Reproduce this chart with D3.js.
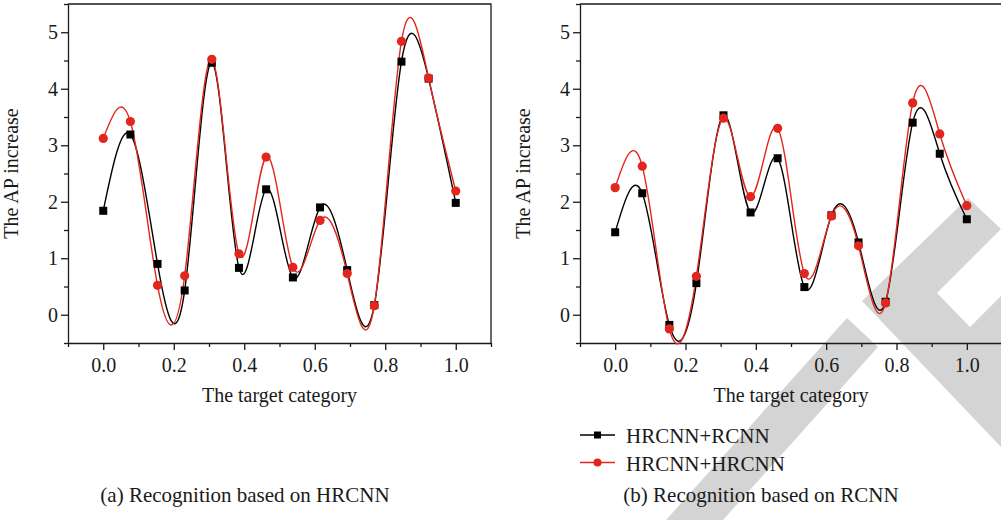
<!DOCTYPE html>
<html>
<head>
<meta charset="utf-8">
<script src="https://cdn.jsdelivr.net/npm/d3@7"></script>
<style>
  body { margin: 0; background: #fff; }
  svg { display: block; }
  svg text { font-family: "Liberation Serif", "DejaVu Serif", serif; }
</style>
</head>
<body>
<div class="chart"></div>
<script>
// x positions of the target categories
const categories = [0.0, 0.077, 0.154, 0.231, 0.308, 0.385, 0.462, 0.538, 0.615, 0.692, 0.769, 0.846, 0.923, 1.0];

// (a) Recognition based on HRCNN
const aRcnn  = [1.84, 3.19, 0.90, 0.43, 4.46, 0.83, 2.22, 0.66, 1.90, 0.79, 0.17, 4.48, 4.18, 1.98];
const aHrcnn = [3.12, 3.42, 0.52, 0.69, 4.52, 1.08, 2.79, 0.84, 1.67, 0.73, 0.16, 4.84, 4.19, 2.19];

// (b) Recognition based on RCNN
const bRcnn  = [1.46, 2.15, -0.18, 0.56, 3.53, 1.81, 2.77, 0.49, 1.76, 1.28, 0.23, 3.40, 2.85, 1.69];
const bHrcnn = [2.25, 2.63, -0.25, 0.68, 3.48, 2.09, 3.30, 0.73, 1.75, 1.22, 0.21, 3.75, 3.20, 1.93];

const xTicks = [0.0, 0.2, 0.4, 0.6, 0.8, 1.0];
const yTicks = [0, 1, 2, 3, 4, 5];
const seriesNames = ["HRCNN+RCNN", "HRCNN+HRCNN"];
const captions = ["(a) Recognition based on HRCNN", "(b) Recognition based on RCNN"];

const W = 1001, H = 520;
const RED = "#e2261d", INK = "#1a1a1a";
const FONT = "Liberation Serif, DejaVu Serif, serif";

let svg = d3.select(".chart")
  .append("svg")
  .attr("width", W)
  .attr("height", H);

// watermark in the lower right corner
const mark = svg.append("g").attr("fill", "#d4d4d4");
mark.append("polygon")
  .attr("points", "666,520 723,520 878,347 847,318");
mark.append("polygon")
  .attr("points", "968,198 1001,229 937,293 970,327 1001,296 1001,447 862,301");

function drawPanel(left, right, rcnn, hrcnn, caption, captionX) {
  const top = 4, bottom = 343;
  let x = d3.scaleLinear().domain([-0.1, 1.1]).range([left, right]);
  let y = d3.scaleLinear().domain([-0.5, 5.5]).range([bottom, top]);

  let g = svg.append("g");

  // frame (top + right)
  g.append("path")
    .attr("d", `M${left},${top}H${right}V${bottom}`)
    .attr("fill", "none")
    .attr("stroke", INK)
    .attr("stroke-width", 1.3);

  // x axis
  let xAxis = g.append("g")
    .attr("transform", `translate(0,${bottom})`)
    .call(d3.axisBottom(x).tickValues(xTicks).tickFormat(d3.format(".1f")).tickSize(7).tickSizeOuter(0));
  g.append("g")
    .attr("transform", `translate(0,${bottom})`)
    .call(d3.axisBottom(x).tickValues([-0.1, 0.1, 0.3, 0.5, 0.7, 0.9, 1.1]).tickFormat("").tickSize(4).tickSizeOuter(0))
    .select(".domain").remove();

  // y axis
  let yAxis = g.append("g")
    .attr("transform", `translate(${left},0)`)
    .call(d3.axisLeft(y).tickValues(yTicks).tickFormat(d3.format("d")).tickSize(7).tickSizeOuter(0));
  g.append("g")
    .attr("transform", `translate(${left},0)`)
    .call(d3.axisLeft(y).tickValues([-0.5, 0.5, 1.5, 2.5, 3.5, 4.5, 5.5]).tickFormat("").tickSize(4).tickSizeOuter(0))
    .select(".domain").remove();

  g.selectAll(".domain, .tick line").attr("stroke", INK).attr("stroke-width", 1.3);
  xAxis.attr("font-family", FONT);
  yAxis.attr("font-family", FONT);
  xAxis.selectAll("text").attr("font-size", 20).attr("fill", INK).attr("dy", "0.95em");
  yAxis.selectAll("text").attr("font-size", 20).attr("fill", INK).attr("x", -10);

  // axis titles
  g.append("text")
    .attr("x", (left + right) / 2)
    .attr("y", 402)
    .attr("text-anchor", "middle")
    .attr("font-size", 20)
    .attr("fill", INK)
    .text("The target category");
  g.append("text")
    .attr("transform", `translate(${left - 50},${(top + bottom) / 2}) rotate(-90)`)
    .attr("text-anchor", "middle")
    .attr("font-size", 20)
    .attr("fill", INK)
    .text("The AP increase");

  let line = d3.line()
    .x((d, i) => x(categories[i]))
    .y(d => y(d))
    .curve(d3.curveNatural);

  g.append("path").datum(rcnn)
    .attr("d", line).attr("fill", "none").attr("stroke", "#000").attr("stroke-width", 1.4);
  g.append("path").datum(hrcnn)
    .attr("d", line).attr("fill", "none").attr("stroke", RED).attr("stroke-width", 1.4);

  g.selectAll(".sq").data(rcnn).enter()
    .append("rect")
    .attr("x", (d, i) => x(categories[i]) - 4)
    .attr("y", d => y(d) - 4)
    .attr("width", 8).attr("height", 8)
    .attr("fill", "#000");
  g.selectAll(".dot").data(hrcnn).enter()
    .append("circle")
    .attr("cx", (d, i) => x(categories[i]))
    .attr("cy", d => y(d))
    .attr("r", 4.6)
    .attr("fill", RED);

  svg.append("text")
    .attr("x", captionX)
    .attr("y", 502)
    .attr("text-anchor", "middle")
    .attr("font-size", 21)
    .attr("fill", INK)
    .text(caption);
}

drawPanel(68, 491, aRcnn, aHrcnn, captions[0], 245);
drawPanel(580, 1002, bRcnn, bHrcnn, captions[1], 761);

// legend
let legend = svg.append("g");
[["#000", "rect"], [RED, "circle"]].forEach((s, i) => {
  let ly = 435 + i * 27.5;
  legend.append("line")
    .attr("x1", 580).attr("x2", 615).attr("y1", ly).attr("y2", ly)
    .attr("stroke", s[0]).attr("stroke-width", 1.4);
  if (s[1] === "rect") {
    legend.append("rect").attr("x", 594).attr("y", ly - 3.5).attr("width", 7).attr("height", 7).attr("fill", s[0]);
  } else {
    legend.append("circle").attr("cx", 597.5).attr("cy", ly).attr("r", 4).attr("fill", s[0]);
  }
  legend.append("text")
    .attr("x", 626).attr("y", ly + 8)
    .attr("font-size", 21)
    .attr("fill", INK)
    .text(seriesNames[i]);
});
</script>
</body>
</html>
